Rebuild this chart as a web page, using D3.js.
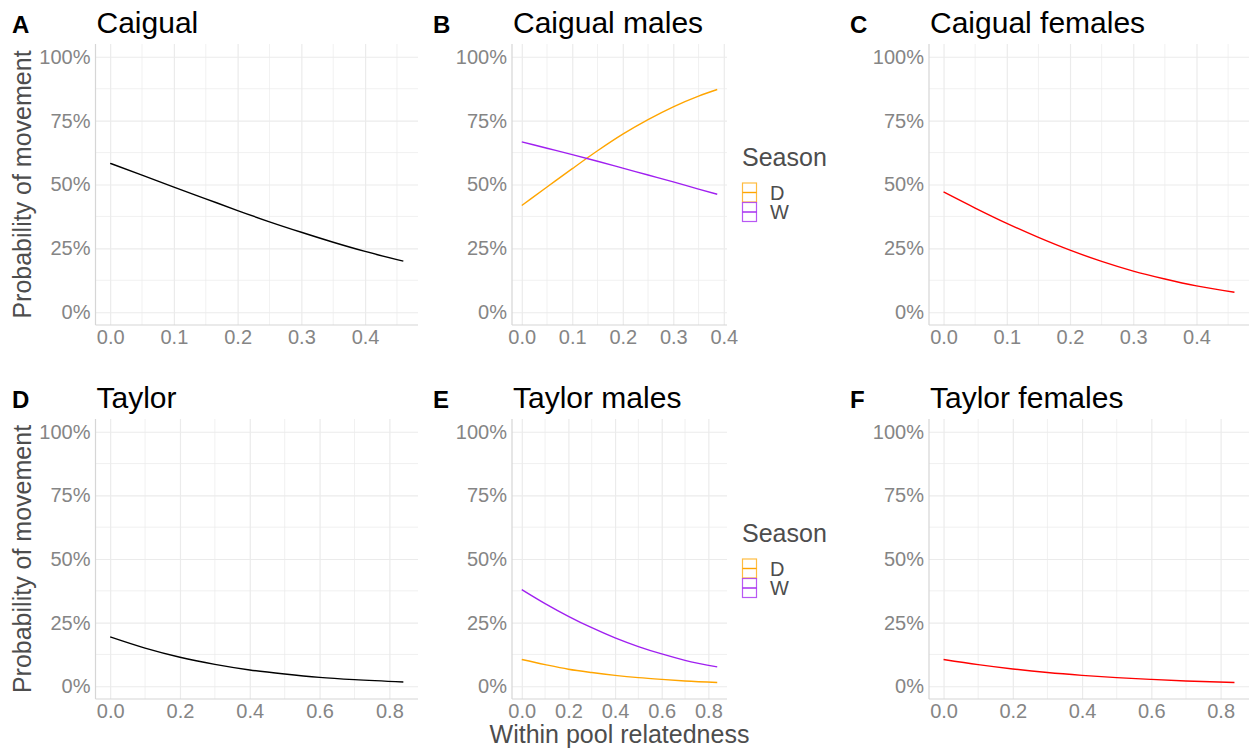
<!DOCTYPE html>
<html>
<head>
<meta charset="utf-8">
<script src="https://cdn.jsdelivr.net/npm/d3@7"></script>
<style>
  body { margin: 0; background: #fff; }
  svg { display: block; font-family: "Liberation Sans", Arial, sans-serif; }
</style>
</head>
<body>
<svg id="chart" width="1250" height="749"></svg>
<script>
// data (probability in %)
const caigualX = [0, 0.05, 0.1, 0.15, 0.2, 0.25, 0.3, 0.35, 0.4, 0.46];
const caigualAll = [58.3, 53.7, 49.0, 44.4, 39.8, 35.4, 31.3, 27.4, 23.8, 20.0];
const caigualFemales = [47.1, 40.8, 34.8, 29.3, 24.3, 19.9, 16.1, 13.0, 10.3, 7.8];

const caigualMalesX = [0, 0.05, 0.1, 0.15, 0.2, 0.25, 0.3, 0.35, 0.387];
const caigualMalesD = [41.8, 49.0, 56.2, 63.2, 69.7, 75.4, 80.4, 84.6, 87.2];
const caigualMalesW = [66.7, 64.2, 61.7, 59.1, 56.4, 53.7, 51.0, 48.2, 46.2];

const taylorX = [0, 0.1, 0.2, 0.3, 0.4, 0.5, 0.6, 0.7, 0.84];
const taylorAll = [19.4, 15.0, 11.4, 8.6, 6.4, 4.8, 3.5, 2.6, 1.7];
const taylorFemales = [10.5, 8.5, 6.8, 5.4, 4.3, 3.4, 2.7, 2.1, 1.5];

const taylorMalesX = [0, 0.1, 0.2, 0.3, 0.4, 0.5, 0.6, 0.7, 0.838];
const taylorMalesD = [10.5, 8.5, 6.7, 5.4, 4.3, 3.4, 2.7, 2.1, 1.5];
const taylorMalesW = [38.0, 32.5, 27.5, 23.0, 19.0, 15.6, 12.7, 10.2, 7.6];

const yTicks = [0, 25, 50, 75, 100];
const xTicksCaigual = [0, 0.1, 0.2, 0.3, 0.4];
const xTicksTaylor = [0, 0.2, 0.4, 0.6, 0.8];
const seasons = ["D", "W"];

const seasonColor = d3.scaleOrdinal().domain(seasons).range(["#FFA500", "#A020F0"]);

const zip = (xs, ys) => xs.map((x, i) => ({ x: x, y: ys[i] }));

// panel layout (pixel boxes)
const cols = [[95.5, 418], [512, 727], [929, 1249]];
const rows = [[44, 325], [419, 699]];

const panels = [
    { tag: "A", title: "Caigual", col: 0, row: 0, ticks: xTicksCaigual,
      series: [{ color: "#000", pts: zip(caigualX, caigualAll) }] },
    { tag: "B", title: "Caigual males", col: 1, row: 0, ticks: xTicksCaigual, legend: true,
      series: [{ color: seasonColor("D"), pts: zip(caigualMalesX, caigualMalesD) },
               { color: seasonColor("W"), pts: zip(caigualMalesX, caigualMalesW) }] },
    { tag: "C", title: "Caigual females", col: 2, row: 0, ticks: xTicksCaigual,
      series: [{ color: "#FF0000", pts: zip(caigualX, caigualFemales) }] },
    { tag: "D", title: "Taylor", col: 0, row: 1, ticks: xTicksTaylor,
      series: [{ color: "#000", pts: zip(taylorX, taylorAll) }] },
    { tag: "E", title: "Taylor males", col: 1, row: 1, ticks: xTicksTaylor, legend: true,
      series: [{ color: seasonColor("D"), pts: zip(taylorMalesX, taylorMalesD) },
               { color: seasonColor("W"), pts: zip(taylorMalesX, taylorMalesW) }] },
    { tag: "F", title: "Taylor females", col: 2, row: 1, ticks: xTicksTaylor,
      series: [{ color: "#FF0000", pts: zip(taylorX, taylorFemales) }] }
];

const svg = d3.select("#chart");
const tickColor = "#858585";
const gridColor = "#ebebeb";

panels.forEach(p => {
    const [x0, x1] = cols[p.col];
    const [y0, y1] = rows[p.row];
    const allX = p.series.flatMap(s => s.pts.map(d => d.x));
    const ext = d3.extent(allX);
    const pad = (ext[1] - ext[0]) * 0.05;
    const xScale = d3.scaleLinear().domain([ext[0] - pad, ext[1] + pad]).range([x0, x1]);
    const yScale = d3.scaleLinear().domain([-5, 105]).range([y1, y0]);

    const g = svg.append("g");

    // minor grid
    const step = p.ticks[1] - p.ticks[0];
    const xMinor = d3.range(p.ticks[0] - step / 2, xScale.domain()[1], step)
        .filter(v => v > xScale.domain()[0]);
    const yMinor = [12.5, 37.5, 62.5, 87.5];
    g.selectAll(".vminor").data(xMinor).join("line")
        .attr("x1", d => xScale(d)).attr("x2", d => xScale(d))
        .attr("y1", y0).attr("y2", y1)
        .attr("stroke", gridColor).attr("stroke-width", 0.7);
    g.selectAll(".hminor").data(yMinor).join("line")
        .attr("x1", x0).attr("x2", x1)
        .attr("y1", d => yScale(d)).attr("y2", d => yScale(d))
        .attr("stroke", gridColor).attr("stroke-width", 0.7);

    // major grid via axes
    const xGrid = d3.axisBottom(xScale).tickValues(p.ticks).tickSize(-(y1 - y0)).tickFormat("");
    g.append("g").attr("transform", `translate(0,${y1})`).call(xGrid)
        .call(a => a.select(".domain").remove())
        .call(a => a.selectAll("line").attr("stroke", gridColor).attr("stroke-width", 1.2));
    const yGrid = d3.axisLeft(yScale).tickValues(yTicks).tickSize(-(x1 - x0)).tickFormat("");
    g.append("g").attr("transform", `translate(${x0},0)`).call(yGrid)
        .call(a => a.select(".domain").remove())
        .call(a => a.selectAll("line").attr("stroke", gridColor).attr("stroke-width", 1.2));

    // axis lines
    g.append("line").attr("x1", x0).attr("x2", x0).attr("y1", y0).attr("y2", y1)
        .attr("stroke", "#d6d6d6").attr("stroke-width", 1.2);
    g.append("line").attr("x1", x0).attr("x2", x1).attr("y1", y1).attr("y2", y1)
        .attr("stroke", "#d6d6d6").attr("stroke-width", 1.2);

    // tick labels
    const xAxis = d3.axisBottom(xScale).tickValues(p.ticks).tickSize(0).tickPadding(5)
        .tickFormat(d3.format(".1f"));
    g.append("g").attr("transform", `translate(0,${y1})`).call(xAxis)
        .call(a => a.select(".domain").remove())
        .call(a => a.selectAll("text").attr("fill", tickColor)
            .style("font-size", "20px").style("font-family", "Liberation Sans, Arial, sans-serif"));
    const yAxis = d3.axisLeft(yScale).tickValues(yTicks).tickSize(0).tickPadding(5)
        .tickFormat(d => d + "%");
    g.append("g").attr("transform", `translate(${x0},0)`).call(yAxis)
        .call(a => a.select(".domain").remove())
        .call(a => a.selectAll("text").attr("fill", tickColor)
            .style("font-size", "20px").style("font-family", "Liberation Sans, Arial, sans-serif"));

    // lines
    const line = d3.line().x(d => xScale(d.x)).y(d => yScale(d.y)).curve(d3.curveMonotoneX);
    p.series.forEach(s => {
        g.append("path").datum(s.pts).attr("d", line)
            .attr("fill", "none").attr("stroke", s.color).attr("stroke-width", 1.4);
    });

    // title and tag
    g.append("text").attr("x", x0 + 1).attr("y", y0 - 11)
        .style("font-size", "30px").attr("fill", "#000").text(p.title);
    g.append("text").attr("x", p.col === 0 ? 12 : x0 - 79).attr("y", y0 - 11)
        .style("font-size", "24px").style("font-weight", "bold").attr("fill", "#000").text(p.tag);

    // legend
    if (p.legend) {
        const lx = 742, ly = p.row === 0 ? 166 : 542;
        const lg = g.append("g");
        lg.append("text").attr("x", lx).attr("y", ly)
            .style("font-size", "25px").attr("fill", "#4d4d4d").text("Season");
        seasons.forEach((s, i) => {
            const ky = ly + 17 + i * 19.5;
            lg.append("rect").attr("x", lx + 0.5).attr("y", ky).attr("width", 14).attr("height", 19)
                .attr("fill", "#fff").attr("stroke", seasonColor(s)).attr("stroke-opacity", 0.75)
                .attr("stroke-width", 1.2);
            lg.append("line").attr("x1", lx + 0.5).attr("x2", lx + 14.5)
                .attr("y1", ky + 9.5).attr("y2", ky + 9.5)
                .attr("stroke", seasonColor(s)).attr("stroke-width", 1.4);
            lg.append("text").attr("x", lx + 28).attr("y", ky + 9.5).attr("dy", "0.36em")
                .style("font-size", "20px").attr("fill", "#4d4d4d").text(s);
        });
    }
});

// axis titles
rows.forEach(r => {
    svg.append("text")
        .attr("transform", `translate(31,${(r[0] + r[1]) / 2}) rotate(-90)`)
        .attr("text-anchor", "middle")
        .style("font-size", "25px").attr("fill", "#4d4d4d")
        .text("Probability of movement");
});
svg.append("text")
    .attr("x", (cols[1][0] + cols[1][1]) / 2).attr("y", 743)
    .attr("text-anchor", "middle")
    .style("font-size", "25px").attr("fill", "#4d4d4d")
    .text("Within pool relatedness");
</script>
</body>
</html>
